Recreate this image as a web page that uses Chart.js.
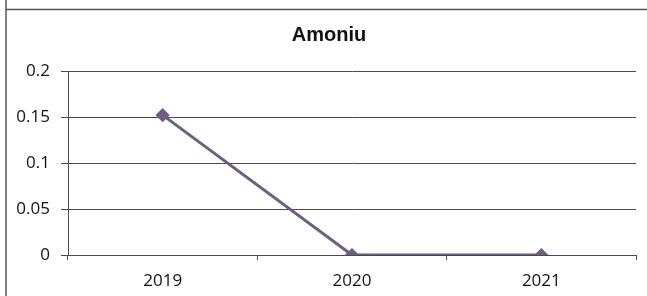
<!DOCTYPE html>
<html>
<head>
    <title>Amoniu</title>
    <script src="https://cdn.jsdelivr.net/npm/chart.js"></script>
    <style>
        body {
            margin: 0;
            padding: 0;
            background: #ffffff;
        }
        #wrap {
            position: relative;
            width: 647px;
            height: 296px;
        }
    </style>
</head>
<body>
    <div id="wrap">
        <canvas id="chart" width="647" height="296"></canvas>
    </div>

    <script>
        const years = ['2019', '2020', '2021'];
        const amoniu = [0.152, 0, 0];
        const yTicks = [0, 0.05, 0.1, 0.15, 0.2];

        const lineColor = '#6f5f7e';
        const gridColor = '#4a4a4a';
        const tickFont = { family: "'Open Sans', sans-serif", size: 17 };

        // frame lines of the original sheet (top + left edge),
        // and nudge the title a bit right like in the source
        const framePlugin = {
            id: 'frame',
            afterLayout(chart) {
                if (chart.titleBlock) chart.titleBlock.left = 22;
            },
            beforeDraw(chart) {
                const ctx = chart.ctx;
                ctx.save();
                ctx.strokeStyle = '#555555';
                ctx.lineWidth = 1.5;
                ctx.beginPath();
                ctx.moveTo(6, 0);
                ctx.lineTo(6, 296);
                ctx.moveTo(6, 9.5);
                ctx.lineTo(647, 9.5);
                ctx.stroke();
                ctx.restore();
            }
        };

        const ctx = document.getElementById('chart').getContext('2d');
        new Chart(ctx, {
            type: 'line',
            data: {
                labels: years,
                datasets: [{
                    label: 'Amoniu',
                    data: amoniu,
                    borderColor: lineColor,
                    backgroundColor: lineColor,
                    borderWidth: 3,
                    pointStyle: 'rectRot',
                    pointRadius: 5,
                    tension: 0
                }]
            },
            options: {
                responsive: false,
                animation: false,
                layout: { padding: { left: 0, right: 11, top: 23, bottom: 0 } },
                plugins: {
                    legend: { display: false },
                    tooltip: { enabled: false },
                    title: {
                        display: true,
                        text: 'Amoniu',
                        color: '#111111',
                        font: { family: "'Liberation Sans', Arial, sans-serif", size: 20, weight: 'bold' },
                        padding: { top: 0, bottom: 24 }
                    }
                },
                scales: {
                    x: {
                        offset: true,
                        grid: {
                            offset: true,
                            drawOnChartArea: false,
                            drawTicks: true,
                            tickLength: 5,
                            color: gridColor
                        },
                        border: { color: gridColor, width: 1 },
                        ticks: { color: '#111111', font: tickFont, padding: 11 },
                        afterFit(scale) { scale.height = 41; }
                    },
                    y: {
                        min: 0,
                        max: 0.2,
                        afterBuildTicks(scale) {
                            scale.ticks = yTicks.map(v => ({ value: v }));
                        },
                        grid: {
                            color: gridColor,
                            tickLength: 7
                        },
                        border: { color: gridColor, width: 1 },
                        ticks: {
                            color: '#111111',
                            font: tickFont,
                            padding: 11,
                            callback: v => String(v)
                        },
                        afterFit(scale) { scale.width = 68; }
                    }
                }
            },
            plugins: [framePlugin]
        });
    </script>
</body>
</html>
